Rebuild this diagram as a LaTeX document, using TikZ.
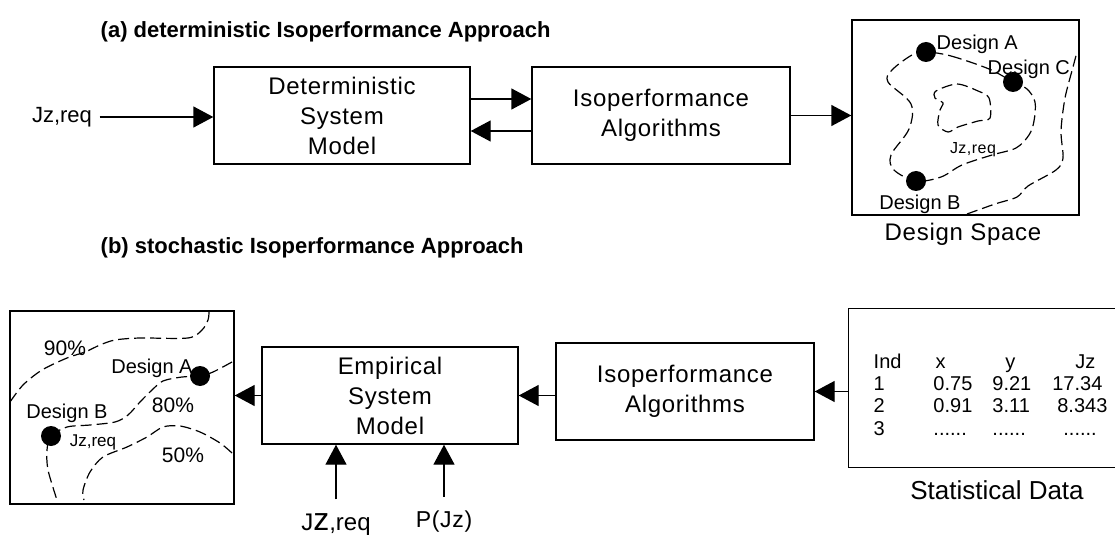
\documentclass[tikz,border=0pt]{standalone}
\usepackage{fontspec}
\setmainfont{Liberation Sans}
\newfontfamily\spacedfont[LetterSpace=3]{Liberation Sans}
\usetikzlibrary{arrows.meta,positioning}

\tikzset{
  blk/.style={draw, align=center, inner sep=0pt, minimum width=256pt, minimum height=97pt,
    font=\spacedfont\fontsize{24}{30}\selectfont},
  ttl/.style={anchor=west, inner sep=0pt, font=\bfseries\fontsize{22}{25}\selectfont},
  lbl/.style={inner sep=1pt, font=\fontsize{20}{24}\selectfont},
  contour/.style={line width=1.2pt, dash pattern=on 11pt off 5pt},
  dot/.style={circle, fill, inner sep=0pt, minimum size=20pt},
  feed/.style={->, shorten <=12pt},
}

\begin{document}
\begin{tikzpicture}[x=1pt,y=-1pt,line width=1.4pt,>={Triangle[length=20pt,width=21pt]}]
\useasboundingbox (0,0) rectangle (1115,537);

% (a) deterministic chain
\node[ttl] (ttla) at (100,32) {(a) deterministic Isoperformance Approach};
\node[lbl, font=\fontsize{22}{26}\selectfont] (jzin) at (62,117) {Jz,req};
\node[blk] (dsm) at (342,115.5) {Deterministic\\System\\Model};
\node[blk, minimum width=258pt] (alg1) at (661,115.5) {Isoperformance\\Algorithms};
\node[draw, minimum width=227pt, minimum height=195pt, inner sep=0pt] (dspace) at (965.5,117.5) {};
\node[lbl, font=\spacedfont\fontsize{24}{28}\selectfont] (dslbl) at (963,234) {Design Space};

\draw[->, shorten <=6pt] (jzin.east) -- (jzin.east -| dsm.west);
\draw[->] ([yshift=16.5pt]dsm.east) -- ([yshift=16.5pt]alg1.west);
\draw[->] ([yshift=-15.5pt]alg1.west) -- ([yshift=-15.5pt]dsm.east);
\draw[->] (alg1.east) -- (alg1.east -| dspace.west);

\draw[contour] plot[smooth cycle, tension=0.55] coordinates {(926,52) (951,56) (989,69) (1013,82) (1027,89)
  (1035,102) (1034,121) (1029,135) (1016,148) (992,155) (962,165) (941,177) (916,181) (894,170)
  (891,155) (909,129) (911,104) (888,82) (892,70) (912,55)};
\draw[contour] plot[smooth cycle, tension=0.5] coordinates {(936,91) (957,84) (978,91) (989,98) (990,118)
  (978,121) (958,127) (948,132) (938,125) (940,110) (943,103) (935,98)};
\draw[contour] plot[smooth, tension=0.5] coordinates {(967,214) (995,204) (1017,197) (1028,186) (1056,170)
  (1063,158) (1061,131) (1065,98) (1073,67) (1077,52)};

\node[dot] (dA) at (926,52) {};
\node[dot] (dC) at (1013,82) {};
\node[dot] (dB) at (916,181) {};
\node[lbl, anchor=west] (lA) at (935,44) {Design A};
\node[lbl, anchor=west] (lC) at (986,69) {Design C};
\node[lbl] (lB) at (920,204) {Design B};
\node[lbl, font=\spacedfont\fontsize{16}{18}\selectfont] (ljz) at (973,150) {Jz,req};

% (b) stochastic chain
\node[ttl] (ttlb) at (100,248) {(b) stochastic Isoperformance Approach};
\node[draw, minimum width=224pt, minimum height=193pt, inner sep=0pt] (pspace) at (122,407.5) {};
\node[blk] (esm) at (390,395.5) {Empirical\\System\\Model};
\node[blk, minimum width=258pt] (alg2) at (685,391.5) {Isoperformance\\Algorithms};
\node[minimum width=266pt, minimum height=158pt, inner sep=0pt] (stat) at (982,388) {};
\draw (stat.north east) -- (stat.north west) -- (stat.south west) -- (stat.south east);
\node[anchor=north west, inner sep=0pt, font=\fontsize{20}{22.3}\selectfont] (stattab) at (873,352) {%
  \begin{tabular}{@{}l@{\hspace{32pt}}l@{\hspace{20pt}}l@{\hspace{21pt}}l@{}}
  Ind & \hspace{2pt}x & \hspace{13pt}y & \hspace{23pt}Jz\\
  1 & 0.75 & 9.21 & 17.34\\
  2 & 0.91 & 3.11 & \hspace{5pt}8.343\\
  3 & ...... & ...... & \hspace{11pt}......
  \end{tabular}};
\node[lbl, font=\fontsize{26}{30}\selectfont] (statlbl) at (997,490) {Statistical Data};

\node[anchor=base, inner sep=1pt, font=\fontsize{24}{28}\selectfont] (jzreq) at (336,530)
  {J{\fontsize{32}{34}\selectfont z},req};
\node[anchor=base, inner sep=1pt, font=\spacedfont\fontsize{23}{26}\selectfont] (pjz) at (444,527) {P(Jz)};

\draw[->] (stat.west |- alg2.east) -- (alg2.east);
\draw[->] (alg2.west |- esm.east) -- (esm.east);
\draw[->] (esm.west) -- (esm.west -| pspace.east);
\draw[feed] (jzreq.north) -- (jzreq.north |- esm.south);
\draw[feed] (pjz.north) -- (pjz.north |- esm.south);

\draw[contour] plot[smooth, tension=0.5] coordinates {(10,402) (23,385) (42,370) (67,358) (85,352)
  (100,345) (115,340) (140,338) (188,338) (202,330) (208,320) (209,312)};
\draw[contour] plot[smooth, tension=0.5] coordinates {(232,362) (213,372) (200,376) (182,377) (163,381)
  (152,390) (140,402) (128,415) (115,422) (90,425) (67,427) (51,436) (47,450) (48,470) (57,500)};
\draw[contour] plot[smooth, tension=0.5] coordinates {(232,453) (220,443) (200,432) (180,426) (163,427)
  (147,437) (127,447) (103,457) (90,472) (83,490) (84,500)};

\node[dot] (pA) at (200,376) {};
\node[dot] (pB) at (51,436) {};
\node[lbl, font=\fontsize{21}{24}\selectfont] (p90) at (65,348) {90\%};
\node[lbl, font=\fontsize{21}{24}\selectfont] (p80) at (173,405) {80\%};
\node[lbl, font=\fontsize{21}{24}\selectfont] (p50) at (183,455) {50\%};
\node[lbl] (lpA) at (152,368) {Design A};
\node[lbl] (lpB) at (67,413) {Design B};
\node[lbl, font=\fontsize{17}{20}\selectfont] (lpjz) at (93,442) {Jz,req};

\end{tikzpicture}
\end{document}
